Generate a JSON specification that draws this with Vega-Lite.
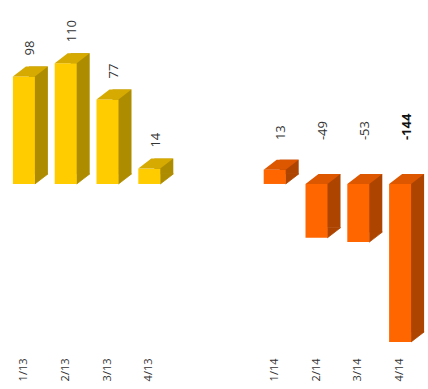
{
  "$schema": "https://vega.github.io/schema/vega-lite/v6.json",
  "autosize": {"type": "none"},
  "padding": {"left": 3, "top": 0, "right": 7, "bottom": 34},
  "width": 418,
  "height": 355,
  "background": "white",
  "config": {"view": {"stroke": null}},
  "data": {"values": [
    {"q": "1/13", "v": 98, "g": "2013"},
    {"q": "2/13", "v": 110, "g": "2013"},
    {"q": "3/13", "v": 77, "g": "2013"},
    {"q": "4/13", "v": 14, "g": "2013"},
    {"q": "1/14", "v": 13, "g": "2014"},
    {"q": "2/14", "v": -49, "g": "2014"},
    {"q": "3/14", "v": -53, "g": "2014"},
    {"q": "4/14", "v": -144, "g": "2014"}
  ]},
  "encoding": {
    "x": {
      "field": "q", "type": "nominal", "sort": null,
      "scale": {"domain": ["1/13","2/13","3/13","4/13"," ","  ","1/14","2/14","3/14","4/14"], "paddingInner": 0, "paddingOuter": 0},
      "axis": {"title": null, "domain": false, "ticks": false, "grid": false, "labelAngle": -90, "labelPadding": 3, "labelFont": "Open Sans", "labelFontSize": 11, "labelColor": "#333333"}
    }
  },
  "layer": [
    {
      "mark": {"type": "bar", "width": 19, "xOffset": 14.5, "yOffset": -10, "y2Offset": -10},
      "encoding": {
        "y": {"field": "v", "type": "quantitative", "scale": {"domain": [-155.9, 167.7], "nice": false, "zero": false}, "axis": null},
        "y2": {"datum": 0},
        "color": {"condition": {"test": "datum.g == '2013'", "value": "#AE8C00"}, "value": "#AD4500"}
      }
    },
    {
      "transform": [{"filter": "datum.v >= 0"}],
      "mark": {"type": "point", "shape": "M0,-0.769L1,-0.769L0,0Z", "size": 676, "filled": true, "opacity": 1, "strokeWidth": 0.8, "xOffset": 11},
      "encoding": {
        "y": {"datum": 0, "type": "quantitative"},
        "color": {"condition": {"test": "datum.g == '2013'", "value": "#AE8C00"}, "value": "#AD4500"},
        "stroke": {"condition": {"test": "datum.g == '2013'", "value": "#AE8C00"}, "value": "#AD4500"}
      }
    },
    {
      "transform": [{"filter": "datum.v < 0"}],
      "mark": {"type": "point", "shape": "M0,-0.769L1,-0.769L0,0Z", "size": 676, "filled": true, "opacity": 1, "strokeWidth": 0.8, "xOffset": 11},
      "encoding": {
        "y": {"field": "v", "type": "quantitative"},
        "color": {"condition": {"test": "datum.g == '2013'", "value": "#AE8C00"}, "value": "#AD4500"},
        "stroke": {"condition": {"test": "datum.g == '2013'", "value": "#AE8C00"}, "value": "#AD4500"}
      }
    },
    {
      "mark": {"type": "bar", "width": 22},
      "encoding": {
        "y": {"field": "v", "type": "quantitative"},
        "y2": {"datum": 0},
        "color": {"condition": {"test": "datum.g == '2013'", "value": "#FFCC00"}, "value": "#FF6600"}
      }
    },
    {
      "transform": [{"filter": "datum.v >= 0"}],
      "mark": {"type": "point", "shape": "M-0.4583,0L0.4583,0L1,-0.4167L0.0833,-0.4167Z", "size": 2304, "filled": true, "opacity": 1, "strokeWidth": 0},
      "encoding": {
        "y": {"field": "v", "type": "quantitative"},
        "color": {"condition": {"test": "datum.g == '2013'", "value": "#D6AA00"}, "value": "#DD5600"}
      }
    },
    {
      "transform": [{"filter": "datum.v < 0"}],
      "mark": {"type": "point", "shape": "M-0.4583,0L0.4583,0L1,-0.4167L0.0833,-0.4167Z", "size": 2304, "filled": true, "opacity": 1, "strokeWidth": 0},
      "encoding": {
        "y": {"datum": 0, "type": "quantitative"},
        "color": {"condition": {"test": "datum.g == '2013'", "value": "#D6AA00"}, "value": "#DD5600"}
      }
    },
    {
      "transform": [{"filter": "datum.g == '2013'"}],
      "mark": {"type": "text", "angle": 270, "align": "left", "baseline": "middle", "xOffset": 6.5, "yOffset": -21, "font": "Open Sans", "fontSize": 13, "color": "#333333"},
      "encoding": {
        "y": {"field": "v", "type": "quantitative"},
        "text": {"field": "v", "type": "nominal"}
      }
    },
    {
      "transform": [{"filter": "datum.g == '2014' && datum.v > -100"}],
      "mark": {"type": "text", "angle": 270, "align": "left", "baseline": "middle", "xOffset": 6.5, "font": "Open Sans", "fontSize": 13, "color": "#333333"},
      "encoding": {
        "y": {"datum": 40, "type": "quantitative"},
        "text": {"field": "v", "type": "nominal"}
      }
    },
    {
      "transform": [{"filter": "datum.g == '2014' && datum.v <= -100"}],
      "mark": {"type": "text", "angle": 270, "align": "left", "baseline": "middle", "xOffset": 6.5, "font": "Open Sans", "fontSize": 13, "fontWeight": "bold", "color": "#111111"},
      "encoding": {
        "y": {"datum": 40, "type": "quantitative"},
        "text": {"field": "v", "type": "nominal"}
      }
    }
  ]
}
